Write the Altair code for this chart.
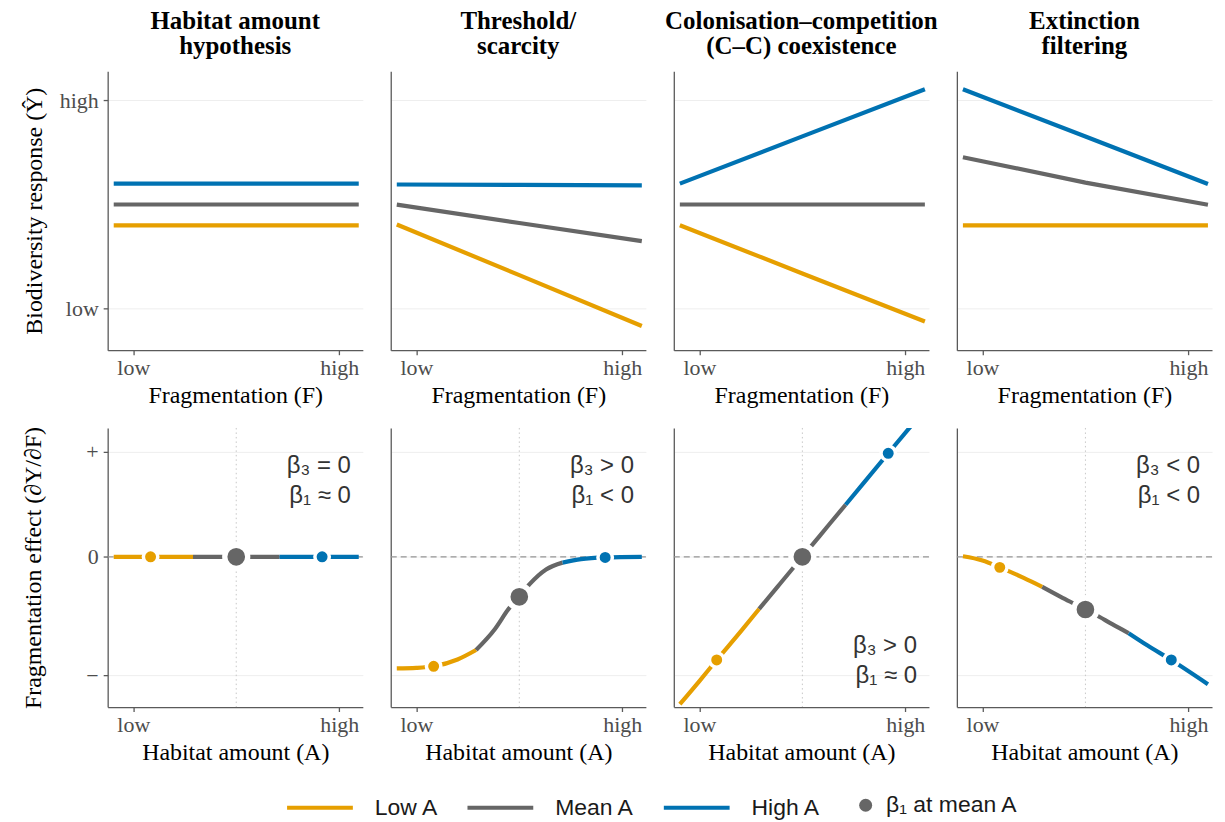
import altair as alt
import pandas as pd

# ---------------- data ----------------
seg_names = ["Low A", "Mean A", "High A"]
seg_colors = ["#E69F00", "#666666", "#0072B2"]
mean_dot_label = ["β₁ at mean A"]

panel_titles = [["Habitat amount", "hypothesis"],
                ["Threshold/", "scarcity"],
                ["Colonisation–competition", "(C–C) coexistence"],
                ["Extinction", "filtering"]]

x_tick_values = [0, 1]
x_tick_labels = ["low", "high"]
top_y_tick_values = [0, 1]
top_y_tick_labels = ["low", "high"]
bot_y_tick_values = [-1.124, 0, 1]
bot_y_tick_labels = ["−", "0", "+"]

# top row: biodiversity response vs fragmentation (F)
top_F = [-0.095, 0.5, 1.095]
top_low = [[0.40, 0.40, 0.40], [0.404, 0.161, -0.083], [0.40, 0.169, -0.062], [0.40, 0.40, 0.40]]
top_mean = [[0.50, 0.50, 0.50], [0.499, 0.411, 0.324], [0.50, 0.50, 0.50], [0.727, 0.605, 0.499]]
top_high = [[0.60, 0.60, 0.60], [0.596, 0.594, 0.592], [0.60, 0.827, 1.053], [1.053, 0.826, 0.598]]

# bottom row: fragmentation effect vs habitat amount (A)
bot_A = [-0.095, 0.0, 0.084, 0.2, 0.29, 0.38, 0.45, 0.5, 0.55, 0.63, 0.71, 0.8, 0.917, 1.095]
bot_effect = [
    [0, 0, 0, 0, 0, 0, 0, 0, 0, 0, 0, 0, 0, 0],
    [-1.06, -1.055, -1.04, -0.975, -0.885, -0.69, -0.49, -0.38, -0.26, -0.12, -0.055, -0.022, -0.006, 0.0],
    [-1.40, -1.18, -0.98, -0.71, -0.495, -0.283, -0.118, 0.0, 0.118, 0.307, 0.495, 0.708, 0.984, 1.40],
    [0.005, -0.035, -0.10, -0.20, -0.285, -0.38, -0.45, -0.50, -0.55, -0.64, -0.725, -0.84, -0.98, -1.21],
]
seg_breaks = [0.29, 0.71]
dot_A = [0.084, 0.5, 0.917]
zero_line = [0.0]
mean_A_line = [0.5]

ann_line1 = ["β₃ = 0", "β₃ > 0", "β₃ > 0", "β₃ < 0"]
ann_line2 = ["β₁ ≈ 0", "β₁ < 0", "β₁ ≈ 0", "β₁ < 0"]
ann_at_bottom = [False, False, True, False]

top_y_title = "Biodiversity response  (Ŷ)"
bot_y_title = "Fragmentation effect  (∂Y/∂F)"
top_x_title = "Fragmentation (F)"
bot_x_title = "Habitat amount (A)"

# ---------------- tables ----------------
top_rows = []
for p in range(4):
    for name, arr in zip(seg_names, [top_low, top_mean, top_high]):
        for f, y in zip(top_F, arr[p]):
            top_rows.append({"panel": p, "seg": name, "F": f, "Y": y})
top_df = pd.DataFrame(top_rows)

bot_rows = []
dot_rows = []
for p in range(4):
    for a, e in zip(bot_A, bot_effect[p]):
        if a <= seg_breaks[0]:
            bot_rows.append({"panel": p, "seg": seg_names[0], "A": a, "E": e})
        if seg_breaks[0] <= a <= seg_breaks[1]:
            bot_rows.append({"panel": p, "seg": seg_names[1], "A": a, "E": e})
        if a >= seg_breaks[1]:
            bot_rows.append({"panel": p, "seg": seg_names[2], "A": a, "E": e})
        if a in dot_A:
            k = dot_A.index(a)
            dot_rows.append({"panel": p, "seg": seg_names[k], "A": a, "E": e,
                             "lab": mean_dot_label[0]})
bot_df = pd.DataFrame(bot_rows)
dot_df = pd.DataFrame(dot_rows)


def label_expr(vals, labs):
    expr = "''"
    for v, l in reversed(list(zip(vals, labs))):
        expr = f"abs(datum.value - ({v})) < 1e-6 ? '{l}' : ({expr})"
    return expr


X_DOMAIN = [-0.1244, 1.1148]
TOP_Y_DOMAIN = [-0.1995, 1.140]
BOT_Y_DOMAIN = [-1.427, 1.2244]
W, H = 256, 280
LW = 4.2

color_enc = alt.Color(
    "seg:N",
    scale=alt.Scale(domain=seg_names, range=seg_colors),
    legend=alt.Legend(
        title=None, orient="none", legendX=178, legendY=704, direction="horizontal",
        symbolType="stroke", symbolSize=4356, symbolStrokeWidth=4,
        labelFont="Liberation Sans", labelFontSize=23, labelColor="#1a1a1a",
        labelOffset=20, columnPadding=21,
    ),
)
fill_enc = alt.Fill("seg:N", scale=alt.Scale(domain=seg_names, range=seg_colors), legend=None)
shape_enc = alt.Shape(
    "lab:N",
    scale=alt.Scale(domain=mean_dot_label, range=["circle"]),
    legend=alt.Legend(
        title=None, orient="none", legendX=749, legendY=725, direction="horizontal",
        symbolSize=169, symbolStrokeWidth=0, symbolFillColor="#666666",
        labelFont="Liberation Sans", labelFontSize=23, labelColor="#1a1a1a", labelOffset=9,
    ),
)


def x_enc(field, title):
    return alt.X(
        f"{field}:Q",
        scale=alt.Scale(domain=X_DOMAIN, nice=False, zero=False),
        axis=alt.Axis(values=x_tick_values, labelExpr=label_expr(x_tick_values, x_tick_labels),
                      title=title, grid=False, labelPadding=3, titlePadding=5),
    )


def y_enc(field, p, domain, vals, labs, title, tpad):
    if p == 0:
        axis = alt.Axis(values=vals, labelExpr=label_expr(vals, labs), title=title,
                        grid=True, labelPadding=5, titlePadding=tpad)
    else:
        axis = alt.Axis(values=vals, labels=False, ticks=False, title=None, grid=True)
    return alt.Y(f"{field}:Q", scale=alt.Scale(domain=domain, nice=False, zero=False), axis=axis)


def top_panel(p):
    df = top_df[top_df.panel == p]
    x = x_enc("F", top_x_title)
    y = y_enc("Y", p, TOP_Y_DOMAIN, top_y_tick_values, top_y_tick_labels, top_y_title, 13)
    ch = alt.Chart(df).mark_line(strokeWidth=LW).encode(x=x, y=y, color=color_enc)
    return ch.properties(
        width=W, height=H,
        title=alt.TitleParams(text=panel_titles[p], font="Liberation Serif", fontSize=25,
                              fontWeight="bold", color="#000000", lineHeight=25,
                              anchor="middle", offset=12),
    )


def bot_panel(p):
    bl = bot_df[bot_df.panel == p]
    dl = dot_df[(dot_df.panel == p) & (dot_df.seg != seg_names[1])]
    dm = dot_df[(dot_df.panel == p) & (dot_df.seg == seg_names[1])]
    x = x_enc("A", bot_x_title)
    y = y_enc("E", p, BOT_Y_DOMAIN, bot_y_tick_values, bot_y_tick_labels, bot_y_title, 40)
    vrule = alt.Chart(pd.DataFrame({"A": mean_A_line})).mark_rule(
        color="#c8c8c8", strokeDash=[1.5, 3], strokeWidth=1).encode(x=x)
    hrule = alt.Chart(pd.DataFrame({"E": zero_line})).mark_rule(
        color="#959595", strokeDash=[6, 4], strokeWidth=1.2).encode(y=y)
    lines = alt.Chart(bl).mark_line(strokeWidth=LW, interpolate="monotone", clip=True).encode(
        x=x, y=y, color=color_enc, detail="seg:N")
    dots = alt.Chart(dl).mark_point(shape="circle", filled=True, stroke="white", strokeWidth=3.5,
                                    size=210, opacity=1).encode(x=x, y=y, fill=fill_enc)
    mdot = alt.Chart(dm).mark_point(filled=True, fill="#666666", stroke="white", strokeWidth=5.3,
                                    size=530, opacity=1).encode(x=x, y=y, shape=shape_enc)
    y1, y2 = (219, 249) if ann_at_bottom[p] else (38, 68)
    t1 = alt.Chart(pd.DataFrame({"t": [ann_line1[p]]})).mark_text(
        align="right", baseline="middle", font="Liberation Sans", fontSize=24, color="#333333"
    ).encode(text="t:N", x=alt.value(W - 12), y=alt.value(y1))
    t2 = alt.Chart(pd.DataFrame({"t": [ann_line2[p]]})).mark_text(
        align="right", baseline="middle", font="Liberation Sans", fontSize=24, color="#333333"
    ).encode(text="t:N", x=alt.value(W - 12), y=alt.value(y2))
    return alt.layer(vrule, hrule, lines, dots, mdot, t1, t2).properties(width=W, height=H)


panels = [top_panel(p) for p in range(4)] + [bot_panel(p) for p in range(4)]

chart = alt.ConcatChart(
    concat=panels, columns=4, spacing={"row": 78, "column": 28}, bounds="flush"
).properties(
    padding={"left": 14, "top": 0, "right": 0, "bottom": 2}
).configure_view(stroke=None).configure_axis(
    domainColor="#5a5a5a", domainWidth=1.3, tickColor="#5a5a5a", tickWidth=1.3, tickSize=4.5,
    labelFont="Liberation Serif", labelFontSize=22, labelColor="#4d4d4d",
    titleFont="Liberation Serif", titleFontSize=24, titleColor="#000000", titleFontWeight="normal",
    gridColor="#eeeeee", gridWidth=1,
)

chart.save("out.html", embed_options={"renderer": "svg", "actions": False})
